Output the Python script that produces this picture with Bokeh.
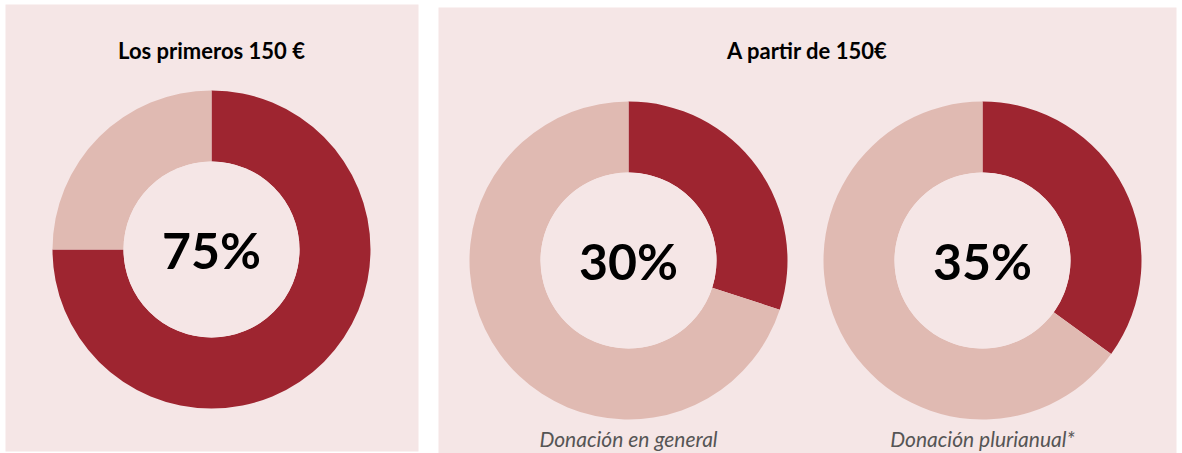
import math
from bokeh.plotting import figure
from bokeh.models import Range1d, ColumnDataSource
from bokeh.core.properties import value
from bokeh.embed import file_html
from bokeh.resources import INLINE

# ---- data ----
percent_labels = ["75%", "30%", "35%"]
percent_values = [75, 30, 35]
panel_titles = ["Los primeros 150 €", "A partir de 150€"]
donut_captions = ["", "Donación en general", "Donación plurianual*"]

# ---- layout (screen pixel coordinates of the page) ----
W, H = 1180, 453
def Y(py):
    return H - py

panel_boxes = [(5, 418, 4, 451), (438, 1176, 7, 453)]
title_pos = [(211, 50), (807, 50)]
donut_cx = [211, 628, 982]
donut_cy = [249, 260, 260]
outer_r = 159
inner_r = 88
caption_y = 438

DARK = "#9E2530"
LIGHT = "#E0BAB2"
BG = "#F5E6E6"

p = figure(width=W, height=H, output_backend="svg", toolbar_location=None,
           x_range=Range1d(0, W), y_range=Range1d(0, H),
           min_border=0, background_fill_color="white", border_fill_color="white")
p.axis.visible = False
p.grid.visible = False
p.outline_line_color = None

# panels
p.quad(left=[b[0] for b in panel_boxes], right=[b[1] for b in panel_boxes],
       top=[Y(b[2]) for b in panel_boxes], bottom=[Y(b[3]) for b in panel_boxes],
       fill_color=BG, line_color=None)

# donuts
fr = [v / 100.0 for v in percent_values]
top = math.pi / 2
dark_src = ColumnDataSource(dict(x=donut_cx, y=[Y(c) for c in donut_cy],
                                 start=[top - 2 * math.pi * f for f in fr],
                                 end=[top for f in fr]))
light_src = ColumnDataSource(dict(x=donut_cx, y=[Y(c) for c in donut_cy],
                                  start=[top for f in fr],
                                  end=[top + 2 * math.pi * (1 - f) for f in fr]))
for src, col in ((dark_src, DARK), (light_src, LIGHT)):
    p.annular_wedge(x="x", y="y", inner_radius=inner_r, outer_radius=outer_r,
                    start_angle="start", end_angle="end", source=src,
                    fill_color=col, line_color=None)
p.circle(x=donut_cx, y=[Y(c) for c in donut_cy], radius=inner_r,
         fill_color=BG, line_color=None)

# center labels
p.text(x=donut_cx, y=[Y(c) for c in donut_cy], text=percent_labels,
       text_font=value("Lato"), text_font_size="50px", text_font_style="bold",
       text_align="center", text_baseline="middle", text_color="#000000")

# titles
p.text(x=[t[0] for t in title_pos], y=[Y(t[1]) for t in title_pos], text=panel_titles,
       text_font=value("Lato"), text_font_size="22px", text_font_style="bold",
       text_align="center", text_baseline="middle", text_color="#000000")

# captions
p.text(x=donut_cx, y=[Y(caption_y)] * 3, text=donut_captions,
       text_font=value("Lato"), text_font_size="21px", text_font_style="italic",
       text_align="center", text_baseline="middle", text_color="#555555")

open("out.html", "w").write(file_html(p, INLINE))
